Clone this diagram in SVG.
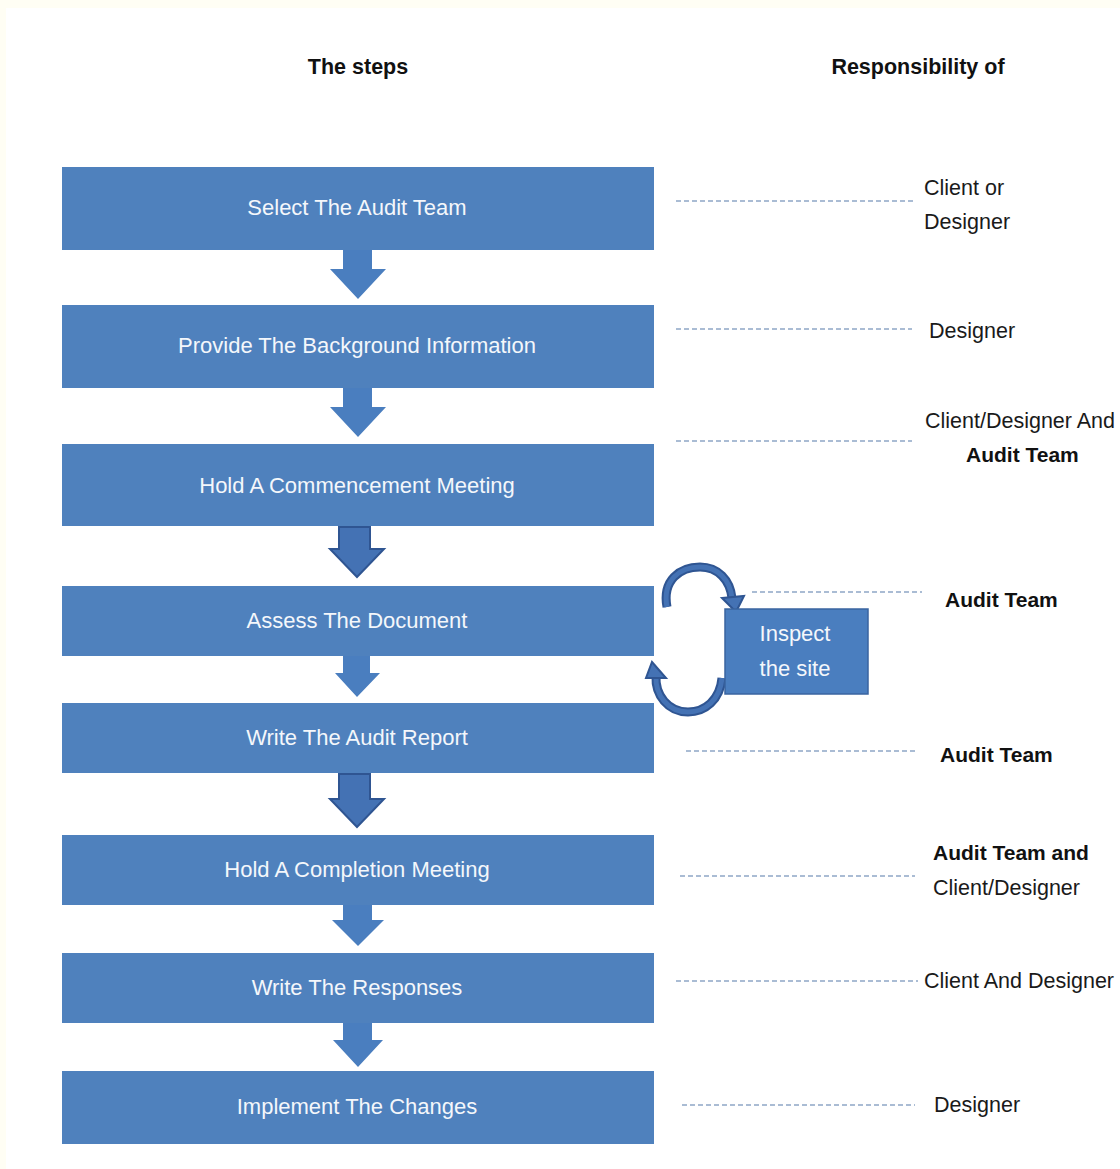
<svg xmlns="http://www.w3.org/2000/svg" width="1120" height="1169" viewBox="0 0 1120 1169">
<style>
.box{fill:#4f81bd;}
.btxt{font-family:"Liberation Sans",Arial,sans-serif;font-size:22px;fill:#f4f7fb;text-anchor:middle;}
.hdr{font-family:"Liberation Sans",Arial,sans-serif;font-size:21.5px;font-weight:bold;fill:#111;text-anchor:middle;}
.lbl{font-family:"Liberation Sans",Arial,sans-serif;font-size:21.5px;fill:#1a1a1a;}
.lblb{font-family:"Liberation Sans",Arial,sans-serif;font-size:21px;font-weight:bold;fill:#111;}
.dash{stroke:#8ea6c6;stroke-width:1.5;stroke-dasharray:5,3;fill:none;}
.arr{fill:#4a7ebf;}
.arro{fill:#4472b4;stroke:#2f5592;stroke-width:2;}
.loopo{fill:none;stroke:#2f5592;stroke-width:9;stroke-linecap:butt;}
.loopi{fill:none;stroke:#4472b4;stroke-width:5;stroke-linecap:butt;}
.loophead{fill:#4472b4;stroke:#2f5592;stroke-width:2;}
</style>
<rect x="0" y="0" width="1120" height="1169" fill="#fffef4"/>
<rect x="6" y="8" width="1114" height="1161" fill="#ffffff"/>
<text class="hdr" x="358" y="74">The steps</text>
<text class="hdr" x="918" y="74">Responsibility of</text>
<g id="connectors">
<polygon class="arr" points="343,250 372,250 372,269 386,269 358,299 330,269 343,269"/>
<polygon class="arr" points="343,388 372,388 372,407 386,407 358,437 330,407 343,407"/>
<polygon class="arro" points="339,527 370,527 370,549 384,549 357,577 330,549 339,549"/>
<polygon class="arr" points="343,656 370,656 370,673 380,673 357,697 335,673 343,673"/>
<polygon class="arro" points="339,774 370,774 370,799 384,799 357,827 330,799 339,799"/>
<polygon class="arr" points="343,905 372,905 372,920 384,920 358,946 332,920 343,920"/>
<polygon class="arr" points="343,1023 372,1023 372,1040 383,1040 358,1067 333,1040 343,1040"/>
<path class="loopo" d="M667,607 C662,580 680,567 700,567 C718,567 730,580 732,598"/>
<path class="loopi" d="M667,607 C662,580 680,567 700,567 C718,567 730,580 732,598"/>
<polygon class="loophead" points="722,598 744,596 736,612"/>
<path class="loopo" d="M722,678 C720,700 705,712 688,712 C668,712 655,695 656,676"/>
<path class="loopi" d="M722,678 C720,700 705,712 688,712 C668,712 655,695 656,676"/>
<polygon class="loophead" points="646,678 666,678 652,662"/>
<line class="dash" x1="676" y1="201" x2="915" y2="201"/>
<line class="dash" x1="676" y1="329" x2="912" y2="329"/>
<line class="dash" x1="676" y1="441" x2="912" y2="441"/>
<line class="dash" x1="752" y1="592" x2="922" y2="592"/>
<line class="dash" x1="686" y1="751" x2="918" y2="751"/>
<line class="dash" x1="680" y1="876" x2="915" y2="876"/>
<line class="dash" x1="676" y1="981" x2="918" y2="981"/>
<line class="dash" x1="682" y1="1105" x2="915" y2="1105"/>
</g>
<g id="n1"><rect class="box" x="62" y="167" width="592" height="83"/><text class="btxt" x="357" y="215">Select The Audit Team</text></g>
<g id="n2"><rect class="box" x="62" y="305" width="592" height="83"/><text class="btxt" x="357" y="353">Provide The Background Information</text></g>
<g id="n3"><rect class="box" x="62" y="444" width="592" height="82"/><text class="btxt" x="357" y="493">Hold A Commencement Meeting</text></g>
<g id="n4"><rect class="box" x="62" y="586" width="592" height="70"/><text class="btxt" x="357" y="628">Assess The Document</text></g>
<g id="n5"><rect class="box" x="62" y="703" width="592" height="70"/><text class="btxt" x="357" y="745">Write The Audit Report</text></g>
<g id="n6"><rect class="box" x="62" y="835" width="592" height="70"/><text class="btxt" x="357" y="877">Hold A Completion Meeting</text></g>
<g id="n7"><rect class="box" x="62" y="953" width="592" height="70"/><text class="btxt" x="357" y="995">Write The Responses</text></g>
<g id="n8"><rect class="box" x="62" y="1071" width="592" height="73"/><text class="btxt" x="357" y="1114">Implement The Changes</text></g>
<g id="n9"><rect x="725" y="609" width="143" height="85" fill="#4a7ebf" stroke="#3a64a0" stroke-width="1.5"/><text class="btxt" x="795" y="641">Inspect</text><text class="btxt" x="795" y="676">the site</text></g>
<g id="labels">
<text class="lbl" x="924" y="195">Client or</text>
<text class="lbl" x="924" y="229">Designer</text>
<text class="lbl" x="929" y="338">Designer</text>
<text class="lbl" x="925" y="428">Client/Designer And</text>
<text class="lblb" x="966" y="462">Audit Team</text>
<text class="lblb" x="945" y="607">Audit Team</text>
<text class="lblb" x="940" y="762">Audit Team</text>
<text class="lblb" x="933" y="860">Audit Team and</text>
<text class="lbl" x="933" y="895">Client/Designer</text>
<text class="lbl" x="924" y="988">Client And Designer</text>
<text class="lbl" x="934" y="1112">Designer</text>
</g>
</svg>
